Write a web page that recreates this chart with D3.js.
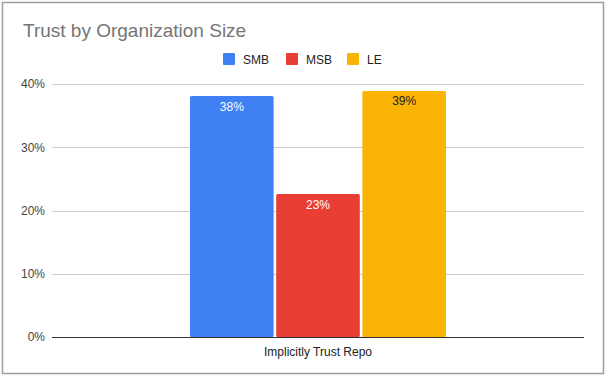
<!DOCTYPE html>
<html>
<head>
    <meta charset="utf-8">
    <title>Trust by Organization Size</title>
    <style>
        body { margin: 0; background: #fff; }
        svg { display: block; font-family: Arial, "Liberation Sans", sans-serif; }
    </style>
    <script src="https://d3js.org/d3.v7.min.js"></script>
</head>
<body>
<script>
  // chart data
  var categories = ["Implicitly Trust Repo"];
  var seriesNames = ["SMB", "MSB", "LE"];
  var seriesColors = ["#3f80f3", "#e93e33", "#f9b406"];
  var labelColors = ["#ffffff", "#ffffff", "#222222"];
  var smb = [0.381];
  var msb = [0.226];
  var le = [0.389];
  var yTicks = [0, 0.1, 0.2, 0.3, 0.4];

  var w = 607, h = 377;
  var margin = {left: 52, right: 23, top: 84, bottom: 40};

  var svg = d3.select("body").append("svg")
      .attr("width", w).attr("height", h);

  // frame
  svg.append("rect").attr("x", 0).attr("y", 0).attr("width", w).attr("height", h).attr("fill", "#fdfdfd");
  svg.append("rect")
     .attr("x", 2.5).attr("y", 2.5).attr("width", 601).attr("height", 371)
     .attr("fill", "#fff").attr("stroke", "#9e9e9e").attr("stroke-width", 1.5);

  var x0 = d3.scaleBand().domain(categories)
      .range([margin.left, w - margin.right])
      .paddingInner(0).paddingOuter(0.539);
  var x1 = d3.scaleBand().domain(seriesNames)
      .range([0, x0.bandwidth()]).paddingInner(0.03);
  var y = d3.scaleLinear().domain([0, 0.4]).range([h - margin.bottom, margin.top]);

  // grid
  svg.append("g").selectAll("line").data(yTicks.slice(1)).enter().append("line")
     .attr("x1", margin.left).attr("x2", w - margin.right)
     .attr("y1", function (d) { return Math.round(y(d)) + 0.5; })
     .attr("y2", function (d) { return Math.round(y(d)) + 0.5; })
     .attr("stroke", "#cccccc");

  var yAxis = svg.append("g")
     .attr("transform", "translate(" + margin.left + ",0)")
     .call(d3.axisLeft(y).tickValues(yTicks).tickFormat(d3.format(".0%")).tickSize(0).tickPadding(7));
  yAxis.select(".domain").remove();
  yAxis.selectAll("text").attr("font-size", 12).attr("fill", "#444").attr("font-family", "Arial, 'Liberation Sans', sans-serif");

  // bars
  var values = [smb, msb, le];
  var rows = [];
  seriesNames.forEach(function (s, i) {
    categories.forEach(function (c, j) {
      rows.push({series: s, cat: c, value: values[i][j], color: seriesColors[i], lc: labelColors[i]});
    });
  });

  var bars = svg.append("g").selectAll("g").data(rows).enter().append("g");
  bars.append("rect")
      .attr("x", function (d) { return x0(d.cat) + x1(d.series); })
      .attr("y", function (d) { return y(d.value); })
      .attr("width", x1.bandwidth())
      .attr("height", function (d) { return y(0) - y(d.value); })
      .attr("rx", 1.5)
      .attr("fill", function (d) { return d.color; });
  bars.append("text")
      .attr("x", function (d) { return x0(d.cat) + x1(d.series) + x1.bandwidth() / 2; })
      .attr("y", function (d) { return y(d.value) + 14.5; })
      .attr("text-anchor", "middle")
      .attr("font-size", 12)
      .attr("fill", function (d) { return d.lc; })
      .text(function (d) { return d3.format(".0%")(d.value); });

  // baseline
  svg.append("line")
     .attr("x1", margin.left).attr("x2", w - margin.right)
     .attr("y1", Math.round(y(0)) + 0.5).attr("y2", Math.round(y(0)) + 0.5)
     .attr("stroke", "#333");

  var xAxis = svg.append("g")
     .attr("transform", "translate(0," + y(0) + ")")
     .call(d3.axisBottom(x0).tickSize(0).tickPadding(10));
  xAxis.select(".domain").remove();
  xAxis.selectAll("text").attr("font-size", 12).attr("fill", "#222").attr("font-family", "Arial, 'Liberation Sans', sans-serif");

  // title
  svg.append("text").attr("x", 23).attr("y", 37)
     .attr("font-size", 19).attr("fill", "#757575")
     .text("Trust by Organization Size");

  // legend
  var legX = [223, 286, 347];
  var leg = svg.append("g").selectAll("g").data(seriesNames).enter().append("g")
     .attr("transform", function (d, i) { return "translate(" + legX[i] + ",53)"; });
  leg.append("rect").attr("width", 12).attr("height", 12).attr("rx", 1)
     .attr("fill", function (d, i) { return seriesColors[i]; });
  leg.append("text").attr("x", 20).attr("y", 11)
     .attr("font-size", 12).attr("fill", "#222")
     .text(function (d) { return d; });
</script>
</body>
</html>
